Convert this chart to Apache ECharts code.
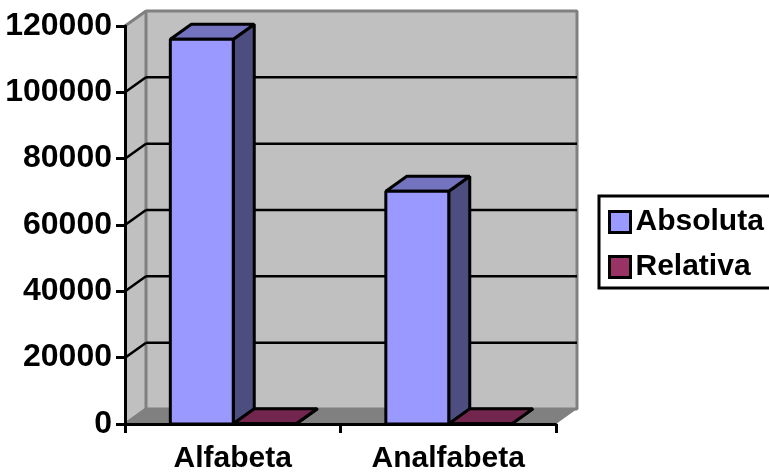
<!DOCTYPE html>
<html><head><meta charset="utf-8">
<script src="https://cdn.jsdelivr.net/npm/echarts@6/dist/echarts.min.js"></script>
<style>html,body{margin:0;padding:0;background:#fff}#c{width:769px;height:475px}</style>
</head><body><div id="c"></div>
<script>
const categories = ['Alfabeta', 'Analfabeta'];
const absoluta = [116000, 70200];
const relativa = [62, 38];
const yTicks = [0, 20000, 40000, 60000, 80000, 100000, 120000];
const depthX = 21, depthY = -15;
const barShare = 0.292;
const font = 'Liberation Sans';

function poly(points, fill, stroke, lw) {
  return {type:'polygon', shape:{points}, style:{fill, stroke, lineWidth:lw, lineJoin:'bevel'}};
}
function line(a, b, stroke, lw) {
  return {type:'line', shape:{x1:a[0],y1:a[1],x2:b[0],y2:b[1]}, style:{stroke, lineWidth:lw}};
}
function renderWalls(params, api) {
  const g = params.coordSys;
  const x0=g.x, x1=g.x+g.width, yT=g.y, yB=g.y+g.height;
  return {type:'group', children:[
    poly([[x0,yB],[x0+depthX,yB+depthY],[x0+depthX,yT+depthY],[x0,yT]], '#C0C0C0', null, 0),
    poly([[x0+depthX,yB+depthY],[x1+depthX,yB+depthY],[x1+depthX,yT+depthY],[x0+depthX,yT+depthY]], '#C0C0C0', '#808080', 3),
    poly([[x0,yB],[x0+depthX,yB+depthY],[x1+depthX,yB+depthY],[x1,yB]], '#808080', null, 0)
  ]};
}
function renderGrid(params, api) {
  const g = params.coordSys;
  const v = api.value(1);
  const y = api.coord([0, v])[1];
  const x0=g.x, x1=g.x+g.width;
  const edge = v===yTicks[0] || v===yTicks[yTicks.length-1];
  const kids = [line([x0,y],[x0+depthX,y+depthY], edge?'#808080':'#000', edge?3:2.5)];
  if(!edge) kids.push(line([x0+depthX,y+depthY],[x1+depthX,y+depthY],'#000',2.5));
  return {type:'group', children:kids};
}
function makeBar(slot, front, side, top) {
  return function(params, api) {
    const p = api.coord([api.value(0), api.value(1)]);
    const base = api.coord([api.value(0), 0]);
    const w = api.size([1,0])[0]*barShare;
    const l = p[0]+slot*w+0.5, r = l+w, t = p[1], b = base[1];
    const lw = 3;
    return {type:'group', children:[
      poly([[r,b],[r+depthX,b+depthY],[r+depthX,t+depthY],[r,t]], side, '#000', lw),
      poly([[l,t],[r,t],[r+depthX,t+depthY],[l+depthX,t+depthY]], top, '#000', lw),
      poly([[l,b],[r,b],[r,t],[l,t]], front, '#000', lw)
    ]};
  };
}
const chart = echarts.init(document.getElementById('c'), null, {renderer:'canvas'});
chart.setOption({
  animation:false,
  backgroundColor:'#fff',
  grid:{left:125,right:213,top:26,bottom:51},
  legend:{
    left:599, top:196, orient:'vertical',
    data:[{name:'Absoluta',icon:'rect'},{name:'Relativa',icon:'rect'}],
    padding:[11,30,6,9], itemWidth:21, itemHeight:21, itemGap:15,
    borderColor:'#000', borderWidth:3, backgroundColor:'#fff',
    textStyle:{fontFamily:font,fontWeight:'bold',fontSize:30,color:'#000'},
    itemStyle:{borderColor:'#000',borderWidth:3}
  },
  xAxis:{type:'category',data:categories,z:5,
    axisLine:{lineStyle:{color:'#000',width:3}},
    axisTick:{show:true,length:9,lineStyle:{color:'#000',width:3}},
    axisLabel:{fontFamily:font,fontWeight:'bold',fontSize:30,color:'#000',margin:20}
  },
  yAxis:{type:'value',min:0,max:120000,interval:20000,z:5,
    splitLine:{show:false},
    axisLine:{show:true,lineStyle:{color:'#000',width:3}},
    axisTick:{show:true,length:9,lineStyle:{color:'#000',width:3}},
    axisLabel:{fontFamily:font,fontWeight:'bold',fontSize:32,color:'#000',margin:13,formatter:v=>String(v)}
  },
  series:[
    {type:'custom',name:'walls',renderItem:renderWalls,data:[[0,0]],silent:true,z:1},
    {type:'custom',name:'grid',renderItem:renderGrid,data:yTicks.map(v=>[0,v]),silent:true,z:1,encode:{x:0,y:1}},
    {type:'custom',name:'Absoluta',z:2,encode:{x:0,y:1},itemStyle:{color:'#9999FF'},
      renderItem:makeBar(-1,'#9999FF','#4D4D80','#7373BF'),data:absoluta.map((v,i)=>[i,v])},
    {type:'custom',name:'Relativa',z:2,encode:{x:0,y:1},itemStyle:{color:'#993366'},
      renderItem:makeBar(0,'#993366','#4D1A33','#73264D'),data:relativa.map((v,i)=>[i,v])}
  ]
});
</script></body></html>
